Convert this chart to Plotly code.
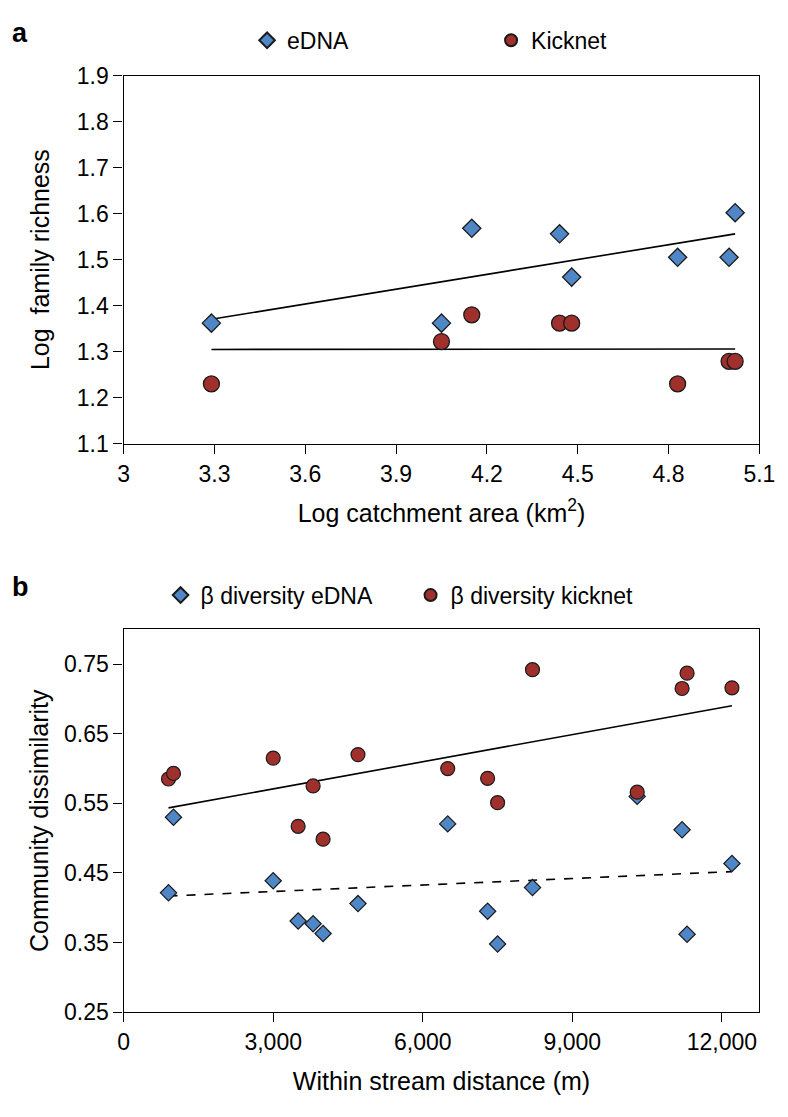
import numpy as np
import plotly.graph_objects as go

# ---------------- Panel a data ----------------
catch_x = [3.29, 4.05, 4.15, 4.44, 4.48, 4.83, 5.00, 5.02]
edna_rich = [1.362, 1.362, 1.568, 1.556, 1.462, 1.505, 1.505, 1.602]
kick_rich = [1.230, 1.322, 1.380, 1.362, 1.362, 1.230, 1.279, 1.279]
a_xticks = [3, 3.3, 3.6, 3.9, 4.2, 4.5, 4.8, 5.1]
a_xticklabels = ["3", "3.3", "3.6", "3.9", "4.2", "4.5", "4.8", "5.1"]
a_yticks = [1.1, 1.2, 1.3, 1.4, 1.5, 1.6, 1.7, 1.8, 1.9]

# ---------------- Panel b data ----------------
dist_edna = [900, 1000, 3000, 3500, 3800, 4000, 4700, 6500, 7300, 7500, 8200, 10300, 11200, 11300, 12200]
beta_edna = [0.4215, 0.530, 0.4388, 0.381, 0.377, 0.363, 0.406, 0.5205, 0.395, 0.348, 0.429, 0.560, 0.512, 0.362, 0.4636]
dist_kick = [900, 1000, 3000, 3500, 3800, 4000, 4700, 6500, 7300, 7500, 8200, 10300, 11200, 11300, 12200]
beta_kick = [0.585, 0.593, 0.615, 0.517, 0.575, 0.4985, 0.620, 0.600, 0.586, 0.551, 0.742, 0.566, 0.715, 0.737, 0.716]
b_xticks = [0, 3000, 6000, 9000, 12000]
b_yticks = [0.25, 0.35, 0.45, 0.55, 0.65, 0.75]

BLUE = "#4f86c6"
RED = "#a0302c"
EDGE = "#1a1a1a"
FONT = "Liberation Sans, Arial, Helvetica, sans-serif"


def fit_line(x, y):
    x = np.asarray(x, float)
    y = np.asarray(y, float)
    m, c = np.polyfit(x, y, 1)
    xs = np.array([x.min(), x.max()])
    return xs, m * xs + c


fig = go.Figure()

# Panel a
xs, ys = fit_line(catch_x, edna_rich)
fig.add_trace(go.Scatter(x=xs, y=ys, mode="lines", line=dict(color="black", width=1.6),
                         showlegend=False, hoverinfo="skip", xaxis="x", yaxis="y"))
xs, ys = fit_line(catch_x, kick_rich)
fig.add_trace(go.Scatter(x=xs, y=ys, mode="lines", line=dict(color="black", width=1.6),
                         showlegend=False, hoverinfo="skip", xaxis="x", yaxis="y"))
fig.add_trace(go.Scatter(x=catch_x, y=edna_rich, mode="markers", name="eDNA",
                         marker=dict(symbol="diamond", size=14, color=BLUE, line=dict(color=EDGE, width=1.3)),
                         xaxis="x", yaxis="y", legend="legend"))
fig.add_trace(go.Scatter(x=catch_x, y=kick_rich, mode="markers", name="Kicknet",
                         marker=dict(symbol="circle", size=16, color=RED, line=dict(color=EDGE, width=1.3)),
                         xaxis="x", yaxis="y", legend="legend"))

# Panel b
xs, ys = fit_line(dist_kick, beta_kick)
fig.add_trace(go.Scatter(x=xs, y=ys, mode="lines", line=dict(color="black", width=1.6),
                         showlegend=False, hoverinfo="skip", xaxis="x2", yaxis="y2"))
xs, ys = fit_line(dist_edna, beta_edna)
fig.add_trace(go.Scatter(x=xs, y=ys, mode="lines", line=dict(color="black", width=1.6, dash="dash"),
                         showlegend=False, hoverinfo="skip", xaxis="x2", yaxis="y2"))
fig.add_trace(go.Scatter(x=dist_edna, y=beta_edna, mode="markers", name="β diversity eDNA",
                         marker=dict(symbol="diamond", size=12.5, color=BLUE, line=dict(color=EDGE, width=1.2)),
                         xaxis="x2", yaxis="y2", legend="legend2"))
fig.add_trace(go.Scatter(x=dist_kick, y=beta_kick, mode="markers", name="β diversity kicknet",
                         marker=dict(symbol="circle", size=14, color=RED, line=dict(color=EDGE, width=1.2)),
                         xaxis="x2", yaxis="y2", legend="legend2"))

W, H = 788, 1117
XL, XR = 121 / W, 775 / W

axis_common = dict(showline=True, linecolor="black", linewidth=1.4, mirror=True,
                   ticks="outside", ticklen=9, tickwidth=1.4, tickcolor="black",
                   showgrid=False, zeroline=False, ticklabeloverflow="allow",
                   tickfont=dict(family=FONT, size=23, color="black"))
TITLE_FONT = dict(family=FONT, size=25, color="black")

fig.update_layout(
    width=W, height=H,
    margin=dict(l=0, r=0, t=0, b=0),
    paper_bgcolor="white", plot_bgcolor="white",
    font=dict(family=FONT, color="black"),
    xaxis=dict(domain=[XL, XR], anchor="y", range=[3, 5.1], tickvals=a_xticks, ticktext=a_xticklabels,
               title=dict(text="Log catchment area (km<sup>2</sup>)", font=TITLE_FONT, standoff=18),
               **axis_common),
    yaxis=dict(domain=[1 - 441 / H, 1 - 64 / H], anchor="x", range=[1.1, 1.9], tickvals=a_yticks,
               tickformat=".1f",
               title=dict(text="Log  family richness", font=TITLE_FONT, standoff=20),
               **axis_common),
    xaxis2=dict(domain=[XL, XR], anchor="y2", range=[0, 12750], tickvals=b_xticks, tickformat=",d",
                title=dict(text="Within stream distance (m)", font=TITLE_FONT, standoff=18),
                **axis_common),
    yaxis2=dict(domain=[1 - 1023 / H, 1 - 631 / H], anchor="x2", range=[0.25, 0.80], tickvals=b_yticks,
                tickformat=".2f",
                title=dict(text="Community dissimilarity", font=TITLE_FONT, standoff=8),
                **axis_common),
    legend=dict(orientation="h", x=248 / W, xanchor="left", y=1 - 28 / H, yanchor="middle",
                entrywidth=199, entrywidthmode="pixels", font=dict(family=FONT, size=23),
                bgcolor="rgba(0,0,0,0)", itemsizing="constant"),
    legend2=dict(orientation="h", x=159 / W, xanchor="left", y=1 - 596 / H, yanchor="middle",
                 entrywidth=205, entrywidthmode="pixels", font=dict(family=FONT, size=23),
                 bgcolor="rgba(0,0,0,0)", itemsizing="constant"),
    annotations=[
        dict(text="<b>a</b>", x=4 / W, y=1 - 20 / H, xref="paper", yref="paper", xanchor="left",
             yanchor="middle", showarrow=False, font=dict(family=FONT, size=27)),
        dict(text="<b>b</b>", x=4 / W, y=1 - 588 / H, xref="paper", yref="paper", xanchor="left",
             yanchor="middle", showarrow=False, font=dict(family=FONT, size=27)),
    ],
)

fig.write_html("out.html", config={"displayModeBar": False},
               post_script="document.body.style.margin='0';")
